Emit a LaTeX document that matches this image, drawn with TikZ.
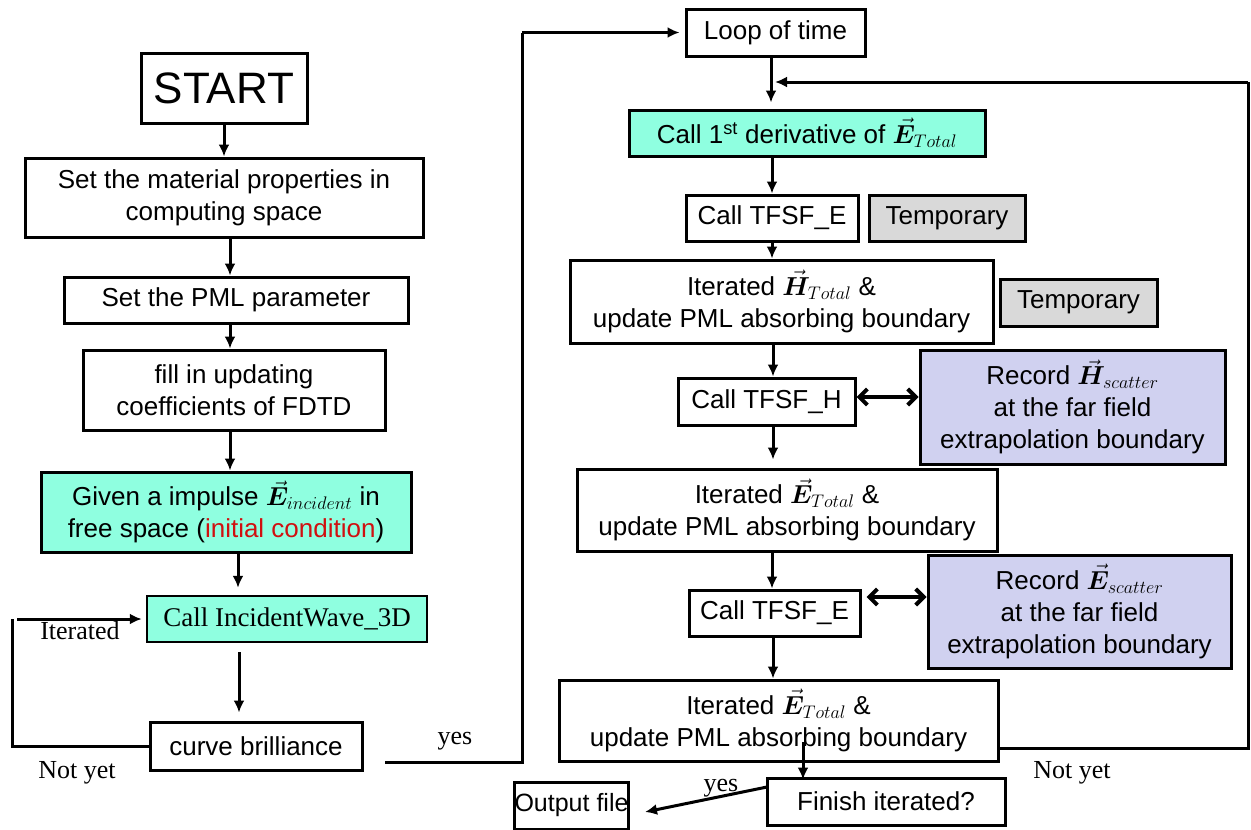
\documentclass[tikz,border=0pt]{standalone}
\usepackage{fix-cm}
\usepackage{amsmath,bm}
\usepackage{fontspec}
\setmainfont{Liberation Sans}
\newfontfamily\serff{Liberation Serif}
\usetikzlibrary{arrows.meta}
\definecolor{aqua}{HTML}{8FFFE0}
\definecolor{tgray}{HTML}{D9D9D9}
\definecolor{lav}{HTML}{D0D1F0}
\definecolor{redtxt}{HTML}{D01010}
\tikzset{
  box/.style={draw, line width=3pt, inner sep=0pt, align=center, font=\fontsize{26}{32}\selectfont},
  arr/.style={line width=3pt, -{Latex[length=12pt,width=11pt]}},
  darr/.style={line width=4pt, {Straight Barb[length=8pt,width=16pt]}-{Straight Barb[length=8pt,width=16pt]}},
  ln/.style={line width=3pt},
  lbl/.style={font=\serff\fontsize{26}{30}\selectfont, inner sep=0pt}
}
\begin{document}
\begin{tikzpicture}[x=1pt,y=-1pt]
\useasboundingbox (0,0) rectangle (1251,830);
% left column
\node[box, minimum width=166pt, minimum height=70pt, font=\fontsize{44}{48}\selectfont] (start) at (224,88) {START};
\node[box, minimum width=398pt, minimum height=79pt] (mat) at (224,197.5) {Set the material properties in\\computing space};
\node[box, minimum width=344pt, minimum height=46pt] (pml) at (236,300) {Set the PML parameter};
\node[box, minimum width=302pt, minimum height=80pt] (fill) at (234,390) {fill in updating\\coefficients of FDTD};
\node[box, fill=aqua, minimum width=370pt, minimum height=80pt] (given) at (226,512) {Given a impulse $\vec{\bm E}_{incident}$ in\\free space ({\color{redtxt}initial condition})};
\node[box, fill=aqua, minimum width=280pt, minimum height=46pt, line width=2.5pt, font=\serff\fontsize{27}{30}\selectfont] (inc) at (287,619) {Call IncidentWave\_3D};
\node[box, minimum width=212pt, minimum height=48pt] (curve) at (256,746) {curve brilliance};
% right column
\node[box, minimum width=179pt, minimum height=47pt] (loop) at (775.5,32.5) {Loop of time};
\node[box, fill=aqua, minimum width=356pt, minimum height=46pt] (der) at (807,133) {Call 1\textsuperscript{st} derivative of $\vec{\bm E}_{Total}$};
\node[box, minimum width=172pt, minimum height=46pt] (tfe) at (772,218) {Call TFSF\_E};
\node[box, fill=tgray, minimum width=156pt, minimum height=46pt] (tmp1) at (947,218) {Temporary};
\node[box, minimum width=423pt, minimum height=83pt] (ith) at (781.5,301.5) {Iterated $\vec{\bm H}_{Total}$ \&\\update PML absorbing boundary};
\node[box, fill=tgray, minimum width=157pt, minimum height=47pt] (tmp2) at (1078.5,302.5) {Temporary};
\node[box, minimum width=177pt, minimum height=47pt] (tfh) at (766.5,401.5) {Call TFSF\_H};
\node[box, fill=lav, minimum width=305pt, minimum height=114pt] (rech) at (1072.5,407) {Record $\vec{\bm H}_{scatter}$\\at the far field\\extrapolation boundary};
\node[box, minimum width=420pt, minimum height=82pt] (ite1) at (787,510) {Iterated $\vec{\bm E}_{Total}$ \&\\update PML absorbing boundary};
\node[box, minimum width=171pt, minimum height=46pt] (tfe2) at (774.5,613) {Call TFSF\_E};
\node[box, fill=lav, minimum width=303pt, minimum height=113pt] (rece) at (1079.5,611.5) {Record $\vec{\bm E}_{scatter}$\\at the far field\\extrapolation boundary};
\node[box, minimum width=439pt, minimum height=81pt] (ite2) at (778.5,720.5) {Iterated $\vec{\bm E}_{Total}$ \&\\update PML absorbing boundary};
\node[box, minimum width=238pt, minimum height=47pt] (fin) at (886,801.5) {Finish iterated?};
\node[box, minimum width=101pt, minimum height=47pt, font=\fontsize{25}{30}\selectfont] (out) at (571.5,805.5) {Output file};
% labels
\node[lbl] (lit) at (80,631) {Iterated};
\node[lbl] (lny1) at (77,773) {Not yet};
\node[lbl] (lyes1) at (455,741) {yes};
\node[lbl] (lny2) at (1072,773) {Not yet};
\node[lbl] (lyes2) at (721,788) {yes};
% coordinates
\coordinate (a1) at (12,746);
\coordinate (a2) at (12,619);
\coordinate (y0) at (385,762);
\coordinate (y1) at (522,762);
\coordinate (y2) at (522,32.5);
\coordinate (n0) at (998,748);
\coordinate (n1) at (1248,748);
\coordinate (n2) at (1248,82);
\coordinate (m) at (771,82);
\coordinate (f0) at (803,742);
\coordinate (o0) at (767,787);
\coordinate (o1) at (645,812);
% left connectors
\draw[arr] (start.south) -- (mat.north);
\draw[arr] ([xshift=6pt]mat.south) -- ([xshift=-6pt]pml.north);
\draw[arr] ([xshift=-6pt]pml.south) -- ([xshift=-4pt]fill.north);
\draw[arr] ([xshift=-4pt]fill.south) -- ([xshift=4pt]given.north);
\draw[arr, shorten >=7pt] ([xshift=12pt]given.south) -- ([xshift=-49pt]inc.north);
\draw[arr, shorten <=9pt, shorten >=8pt] ([xshift=-48pt]inc.south) -- ([xshift=-17pt]curve.north);
\draw[ln] (curve.west) -- (a1) -- (a2);
\draw[arr, shorten >=4pt] ([xshift=5pt]a2) -- (inc.west);
\draw[ln] (y0) -- (y1) -- (y2);
\draw[arr, shorten >=5pt] (y2) -- (loop.west);
% right connectors
\draw[arr, shorten >=6pt] ([xshift=-4.5pt]loop.south) -- ([xshift=-36pt]der.north);
\draw[arr] (der.south -| tfe.north) -- (tfe.north);
\draw[arr] (tfe.south) -- (ith.north -| tfe.south);
\draw[arr] ([xshift=6.5pt]tfh.north |- ith.south) -- ([xshift=6.5pt]tfh.north);
\draw[arr, shorten >=8pt] ([xshift=6.5pt]tfh.south) -- ([xshift=6.5pt]tfh.south |- ite1.north);
\draw[arr] ([xshift=-2.5pt]tfe2.north |- ite1.south) -- ([xshift=-2.5pt]tfe2.north);
\draw[arr] ([xshift=-1.5pt]tfe2.south) -- ([xshift=-1.5pt]tfe2.south |- ite2.north);
\draw[darr] ([yshift=4.5pt]tfh.east) -- ([yshift=10pt]rech.west);
\draw[darr, shorten <=5pt] ([yshift=16pt]tfe2.east) -- ([yshift=14.5pt]rece.west);
\draw[arr, shorten >=-3pt] (f0) -- (f0 |- fin.north);
\draw[ln] (n0) -- (n1) -- (n2);
\draw[arr, shorten >=4pt] (n2) -- (m);
\draw[arr] (o0) -- (o1);
\end{tikzpicture}
\end{document}
